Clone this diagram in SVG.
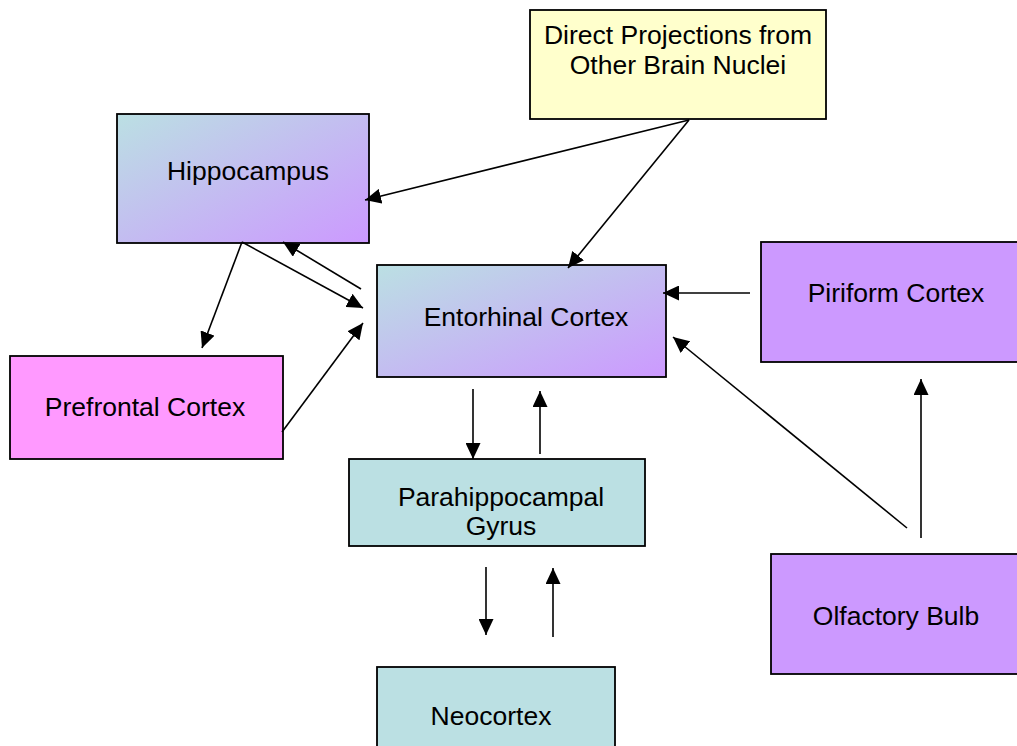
<svg xmlns="http://www.w3.org/2000/svg" width="1017" height="746" viewBox="0 0 1017 746">
<defs>
<linearGradient id="g" x1="0" y1="0" x2="1" y2="1">
<stop offset="0" stop-color="#bbe0e3"/>
<stop offset="1" stop-color="#cc99ff"/>
</linearGradient>
<marker id="ah" markerUnits="userSpaceOnUse" markerWidth="17" markerHeight="15" refX="16" refY="7.5" orient="auto">
<path d="M0,0 L16,7.5 L0,15 z" fill="#000"/>
</marker>
</defs>
<style>
.box{stroke:#000;stroke-width:1.8}
.t{font-family:"Liberation Sans",Arial,sans-serif;font-size:26.5px;fill:#000;text-anchor:middle}
.c line{stroke:#000;stroke-width:1.6;marker-end:url(#ah)}
</style>
<rect width="1017" height="746" fill="#fff"/>
<g id="direct">
<rect class="box" x="530" y="10" width="296" height="109" fill="#ffffcc"/>
<text class="t" x="678" y="44">Direct Projections from</text>
<text class="t" x="678" y="74">Other Brain Nuclei</text>
</g>
<g id="hippocampus">
<rect class="box" x="117" y="114" width="252" height="129" fill="url(#g)"/>
<text class="t" x="248" y="180">Hippocampus</text>
</g>
<g id="entorhinal">
<rect class="box" x="377" y="265" width="289" height="112" fill="url(#g)"/>
<text class="t" x="526" y="326">Entorhinal Cortex</text>
</g>
<g id="prefrontal">
<rect class="box" x="10" y="356" width="273" height="103" fill="#ff99ff"/>
<text class="t" x="145" y="416">Prefrontal Cortex</text>
</g>
<g id="piriform">
<rect class="box" x="761" y="242" width="270" height="120" fill="#cc99ff"/>
<text class="t" x="896" y="302">Piriform Cortex</text>
</g>
<g id="parahippocampal">
<rect class="box" x="349" y="459" width="296" height="87" fill="#bbe0e3"/>
<text class="t" x="501" y="506">Parahippocampal</text>
<text class="t" x="501" y="535">Gyrus</text>
</g>
<g id="olfactory">
<rect class="box" x="771" y="554" width="260" height="120" fill="#cc99ff"/>
<text class="t" x="896" y="625">Olfactory Bulb</text>
</g>
<g id="neocortex">
<rect class="box" x="377" y="667" width="238" height="95" fill="#bbe0e3"/>
<text class="t" x="491" y="725">Neocortex</text>
</g>
<g id="connectors" class="c">
<line x1="689" y1="120" x2="365" y2="200"/>
<line x1="689" y1="120" x2="568" y2="268"/>
<line x1="242" y1="242" x2="202" y2="348"/>
<line x1="242" y1="242" x2="363" y2="308"/>
<line x1="361" y1="289" x2="283" y2="242"/>
<line x1="282" y1="432" x2="363" y2="323"/>
<line x1="750" y1="293" x2="663" y2="293"/>
<line x1="907" y1="528" x2="673" y2="337"/>
<line x1="921" y1="538" x2="921" y2="379"/>
<line x1="473" y1="389" x2="473" y2="459"/>
<line x1="540" y1="454" x2="540" y2="391"/>
<line x1="486" y1="567" x2="486" y2="635"/>
<line x1="553" y1="637" x2="553" y2="568"/>
</g>
</svg>
